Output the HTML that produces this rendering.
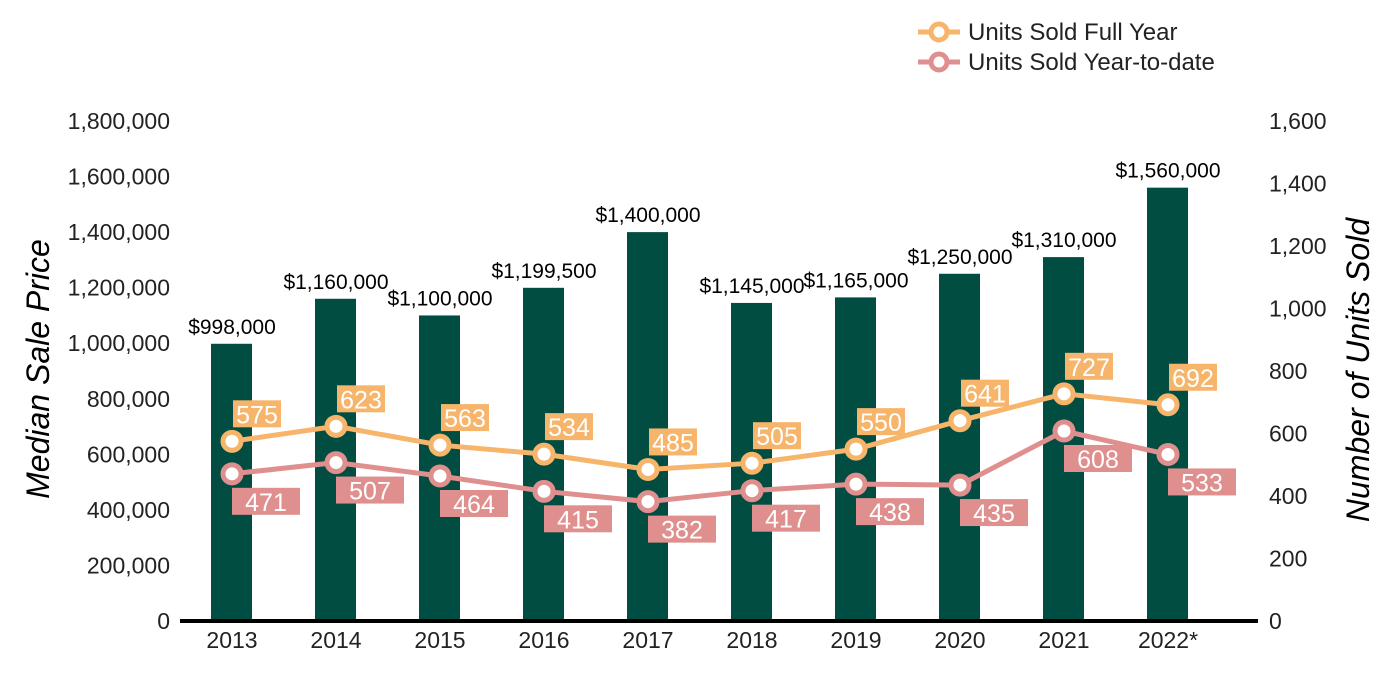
<!DOCTYPE html>
<html><head><meta charset="utf-8"><style>
body{margin:0;background:#fff;}
svg{display:block;font-family:"Liberation Sans",Arial,sans-serif;}
</style></head><body>
<svg id="chart" width="1400" height="700">
<g id="g"></g>
</svg>
<script>
const years=["2013","2014","2015","2016","2017","2018","2019","2020","2021","2022*"];
const prices=[998000,1160000,1100000,1199500,1400000,1145000,1165000,1250000,1310000,1560000];
const priceLabels=["$998,000","$1,160,000","$1,100,000","$1,199,500","$1,400,000","$1,145,000","$1,165,000","$1,250,000","$1,310,000","$1,560,000"];
const fullYear=[575,623,563,534,485,505,550,641,727,692];
const ytd=[471,507,464,415,382,417,438,435,608,533];
const leftTicks=[0,200000,400000,600000,800000,1000000,1200000,1400000,1600000,1800000];
const rightTicks=[0,200,400,600,800,1000,1200,1400,1600];

const NS="http://www.w3.org/2000/svg";
const g=document.getElementById('g');
function el(t,a,txt){const e=document.createElementNS(NS,t);for(const k in a)e.setAttribute(k,a[k]);if(txt!=null)e.textContent=txt;g.appendChild(e);return e;}
const y0=621,yTop=121;
const yL=v=>y0-(v/1800000)*(y0-yTop);
const yR=v=>y0-(v/1600)*(y0-yTop);
const xC=i=>232+i*104;
const fmt=v=>v.toLocaleString('en-US');

leftTicks.forEach(v=>{const t=el('text',{x:170,y:yL(v)+8,'text-anchor':'end','font-size':23,fill:'#222'},fmt(v));
});
rightTicks.forEach(v=>{const t=el('text',{x:1269,y:yR(v)+8,'font-size':23,fill:'#222'},fmt(v));
});

years.forEach((yr,i)=>{
 const b=el('rect',{x:xC(i)-21,y:yL(prices[i]),width:41,height:y0-yL(prices[i]),fill:'#024d42'});
 
 const l=el('text',{x:xC(i),y:yL(prices[i])-10,'text-anchor':'middle','font-size':21,fill:'#000'},priceLabels[i]);
 
 const t=el('text',{x:xC(i),y:648,'text-anchor':'middle','font-size':23,fill:'#222'},yr);
 
});
const ax=el('line',{x1:180,x2:1258,y1:y0,y2:y0,stroke:'#000','stroke-width':4});


function series(vals,color,name,above){
 const p=el('polyline',{points:vals.map((v,i)=>xC(i)+','+yR(v)).join(' '),fill:'none',stroke:color,'stroke-width':5});
 
 vals.forEach((v,i)=>{
  const c=el('circle',{cx:xC(i),cy:yR(v),r:9,fill:'#fff',stroke:color,'stroke-width':5});
  
  const w=above?48:68, bx=xC(i)+(above?1:0), by=above?yR(v)-41:yR(v)+14;
  const r=el('rect',{x:bx,y:by,width:w,height:27,fill:color});
  
  const t=el('text',{x:bx+w/2,y:by+23,'text-anchor':'middle','font-size':25,fill:'#fff'},String(v));
  
 });
}
series(fullYear,'#f6b56b','full-year',true);
series(ytd,'#e08f8f','ytd',false);

const t1=el('text',{x:49,y:369,'font-size':32,'font-style':'italic',fill:'#000','text-anchor':'middle',transform:'rotate(-90 49 369)'},'Median Sale Price');

const t2=el('text',{x:1369,y:370,'font-size':32,'font-style':'italic',fill:'#000','text-anchor':'middle',transform:'rotate(-90 1369 370)'},'Number of Units Sold');


[['Units Sold Full Year','#f6b56b',32],['Units Sold Year-to-date','#e08f8f',62]].forEach(([lab,col,yy])=>{
 const l=el('line',{x1:918,x2:960,y1:yy,y2:yy,stroke:col,'stroke-width':5});
 
 const c=el('circle',{cx:939,cy:yy,r:8,fill:'#fff',stroke:col,'stroke-width':5});
 
 const t=el('text',{x:968,y:yy+8,'font-size':24,fill:'#222'},lab);
 
});
</script>
</body></html>
